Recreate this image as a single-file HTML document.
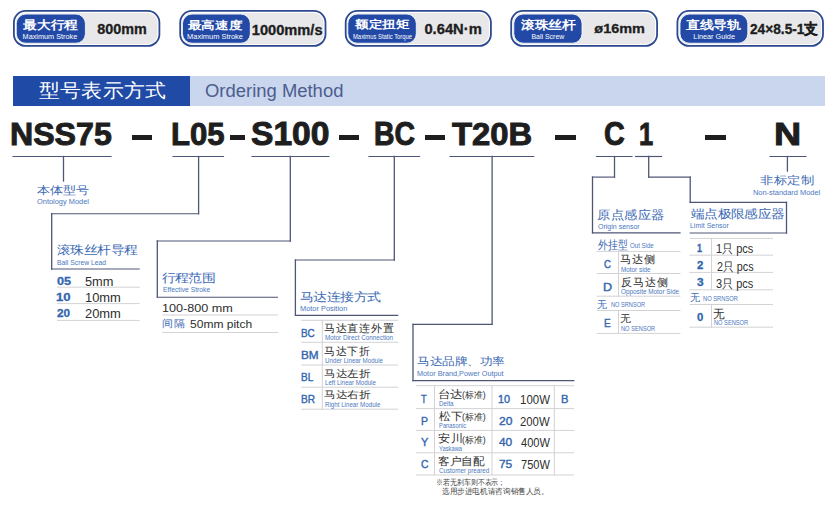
<!DOCTYPE html>
<html><head><meta charset="utf-8"><title>Ordering Method</title>
<style>
html,body{margin:0;padding:0;background:#fff;}
body{width:837px;height:524px;position:relative;overflow:hidden;font-family:"Liberation Sans", sans-serif;}
.r,.t,.bo,.bp,.ov{position:absolute;}
.ov{left:0;top:0;}
.t{white-space:nowrap;line-height:1;transform-origin:0 0;}


</style></head><body>
<svg class="bo" width="837" height="60" viewBox="0 0 837 60" style="left:0;top:0"><rect x="13.90" y="10.90" width="145.50" height="35.00" rx="11.60" fill="#ffffff" stroke="#2d4a90" stroke-width="1.8"/><rect x="15.90" y="12.90" width="141.50" height="31.00" rx="9.60" fill="#e8e8ea"/><rect x="16.30" y="14.1" width="69.10" height="29.1" rx="9.5" fill="#2249a6" stroke="#ffffff" stroke-width="0.8"/><rect x="180.20" y="10.90" width="145.30" height="35.00" rx="11.60" fill="#ffffff" stroke="#2d4a90" stroke-width="1.8"/><rect x="182.20" y="12.90" width="141.30" height="31.00" rx="9.60" fill="#e8e8ea"/><rect x="182.50" y="14.1" width="67.80" height="29.1" rx="9.5" fill="#2249a6" stroke="#ffffff" stroke-width="0.8"/><rect x="345.70" y="10.90" width="145.20" height="35.00" rx="11.60" fill="#ffffff" stroke="#2d4a90" stroke-width="1.8"/><rect x="347.70" y="12.90" width="141.20" height="31.00" rx="9.60" fill="#e8e8ea"/><rect x="347.80" y="14.1" width="68.50" height="29.1" rx="9.5" fill="#2249a6" stroke="#ffffff" stroke-width="0.8"/><rect x="511.20" y="10.90" width="145.90" height="35.00" rx="11.60" fill="#ffffff" stroke="#2d4a90" stroke-width="1.8"/><rect x="513.20" y="12.90" width="141.90" height="31.00" rx="9.60" fill="#e8e8ea"/><rect x="513.80" y="14.1" width="68.20" height="29.1" rx="9.5" fill="#2249a6" stroke="#ffffff" stroke-width="0.8"/><rect x="677.40" y="10.90" width="145.60" height="35.00" rx="11.60" fill="#ffffff" stroke="#2d4a90" stroke-width="1.8"/><rect x="679.40" y="12.90" width="141.60" height="31.00" rx="9.60" fill="#e8e8ea"/><rect x="680.00" y="14.1" width="67.80" height="29.1" rx="9.5" fill="#2249a6" stroke="#ffffff" stroke-width="0.8"/></svg>
<div class="r" style="left:13px;top:76px;width:177.4px;height:30px;background:#1f4aa6"></div><div class="r" style="left:190.4px;top:76px;width:634.4px;height:30px;background:#c9d6ee"></div>
<div class="r" style="left:132.0px;top:134.7px;width:20.19999999999999px;height:5px;background:#1e1e1e"></div><div class="r" style="left:230.0px;top:134.7px;width:15.0px;height:5px;background:#1e1e1e"></div><div class="r" style="left:339.0px;top:134.7px;width:20.19999999999999px;height:5px;background:#1e1e1e"></div><div class="r" style="left:425.0px;top:134.7px;width:19.69999999999999px;height:5px;background:#1e1e1e"></div><div class="r" style="left:555.4px;top:134.7px;width:20.300000000000068px;height:5px;background:#1e1e1e"></div><div class="r" style="left:705.3px;top:134.7px;width:20.700000000000045px;height:5px;background:#1e1e1e"></div>
<svg class="ov" width="837" height="524" viewBox="0 0 837 524"><line x1="13" y1="156.5" x2="111" y2="156.5" stroke="#4e5676" stroke-width="1.15" stroke-linecap="square"/><line x1="173" y1="156.5" x2="223.5" y2="156.5" stroke="#4e5676" stroke-width="1.15" stroke-linecap="square"/><line x1="252" y1="156.5" x2="329" y2="156.5" stroke="#4e5676" stroke-width="1.15" stroke-linecap="square"/><line x1="369" y1="156.5" x2="419.6" y2="156.5" stroke="#4e5676" stroke-width="1.15" stroke-linecap="square"/><line x1="450" y1="156.5" x2="533.7" y2="156.5" stroke="#4e5676" stroke-width="1.15" stroke-linecap="square"/><line x1="596.5" y1="156.5" x2="632" y2="156.5" stroke="#4e5676" stroke-width="1.15" stroke-linecap="square"/><line x1="635.5" y1="156.5" x2="661.5" y2="156.5" stroke="#4e5676" stroke-width="1.15" stroke-linecap="square"/><line x1="770" y1="156.5" x2="806" y2="156.5" stroke="#4e5676" stroke-width="1.15" stroke-linecap="square"/><line x1="63.5" y1="156.5" x2="63.5" y2="181" stroke="#4e5676" stroke-width="1.3" stroke-linecap="square"/><line x1="198.6" y1="156.5" x2="198.6" y2="213.7" stroke="#4e5676" stroke-width="1.3" stroke-linecap="square"/><line x1="198.6" y1="213.7" x2="51.7" y2="213.7" stroke="#4e5676" stroke-width="1.15" stroke-linecap="square"/><line x1="51.7" y1="213.7" x2="51.7" y2="269" stroke="#4e5676" stroke-width="1.3" stroke-linecap="square"/><line x1="51.7" y1="269" x2="139.2" y2="269" stroke="#4e5676" stroke-width="1.15" stroke-linecap="square"/><line x1="290.3" y1="156.5" x2="290.3" y2="241" stroke="#4e5676" stroke-width="1.3" stroke-linecap="square"/><line x1="290.3" y1="241" x2="157.3" y2="241" stroke="#4e5676" stroke-width="1.15" stroke-linecap="square"/><line x1="157.3" y1="241" x2="157.3" y2="297.2" stroke="#4e5676" stroke-width="1.3" stroke-linecap="square"/><line x1="157.3" y1="297.2" x2="277.5" y2="297.2" stroke="#4e5676" stroke-width="1.15" stroke-linecap="square"/><line x1="394.3" y1="156.5" x2="394.3" y2="260" stroke="#4e5676" stroke-width="1.3" stroke-linecap="square"/><line x1="394.3" y1="260" x2="295.4" y2="260" stroke="#4e5676" stroke-width="1.15" stroke-linecap="square"/><line x1="295.4" y1="260" x2="295.4" y2="315.3" stroke="#4e5676" stroke-width="1.3" stroke-linecap="square"/><line x1="295.4" y1="315.3" x2="397.7" y2="315.3" stroke="#4e5676" stroke-width="1.15" stroke-linecap="square"/><line x1="492.1" y1="156.5" x2="492.1" y2="324.3" stroke="#4e5676" stroke-width="1.3" stroke-linecap="square"/><line x1="492.1" y1="324.3" x2="413" y2="324.3" stroke="#4e5676" stroke-width="1.15" stroke-linecap="square"/><line x1="413" y1="324.3" x2="413" y2="380.6" stroke="#4e5676" stroke-width="1.3" stroke-linecap="square"/><line x1="413" y1="380.6" x2="573.8" y2="380.6" stroke="#4e5676" stroke-width="1.15" stroke-linecap="square"/><line x1="614.5" y1="156.5" x2="614.5" y2="177.1" stroke="#4e5676" stroke-width="1.3" stroke-linecap="square"/><line x1="614.5" y1="177.1" x2="592.5" y2="177.1" stroke="#4e5676" stroke-width="1.15" stroke-linecap="square"/><line x1="592.5" y1="177.1" x2="592.5" y2="232.8" stroke="#4e5676" stroke-width="1.3" stroke-linecap="square"/><line x1="592.5" y1="232.8" x2="680" y2="232.8" stroke="#4e5676" stroke-width="1.15" stroke-linecap="square"/><line x1="648.7" y1="156.5" x2="648.7" y2="177.1" stroke="#4e5676" stroke-width="1.3" stroke-linecap="square"/><line x1="648.7" y1="177.1" x2="690.2" y2="177.1" stroke="#4e5676" stroke-width="1.15" stroke-linecap="square"/><line x1="690.2" y1="177.1" x2="690.2" y2="202.3" stroke="#4e5676" stroke-width="1.3" stroke-linecap="square"/><line x1="690.2" y1="202.3" x2="786.5" y2="202.3" stroke="#4e5676" stroke-width="1.15" stroke-linecap="square"/><line x1="786.5" y1="202.3" x2="786.5" y2="233" stroke="#4e5676" stroke-width="1.3" stroke-linecap="square"/><line x1="786.5" y1="233" x2="690.2" y2="233" stroke="#4e5676" stroke-width="1.15" stroke-linecap="square"/><line x1="787.4" y1="156.5" x2="787.4" y2="171" stroke="#4e5676" stroke-width="1.3" stroke-linecap="square"/><line x1="57.5" y1="287.2" x2="139.2" y2="287.2" stroke="#d3d3d6" stroke-width="1" stroke-linecap="square"/><line x1="57.5" y1="303.6" x2="139.2" y2="303.6" stroke="#d3d3d6" stroke-width="1" stroke-linecap="square"/><line x1="57.5" y1="320.4" x2="139.2" y2="320.4" stroke="#d3d3d6" stroke-width="1" stroke-linecap="square"/><line x1="163" y1="315.0" x2="277.5" y2="315.0" stroke="#d3d3d6" stroke-width="1" stroke-linecap="square"/><line x1="163" y1="332.5" x2="277.5" y2="332.5" stroke="#d3d3d6" stroke-width="1" stroke-linecap="square"/><line x1="301.7" y1="320.3" x2="397.8" y2="320.3" stroke="#d3d3d6" stroke-width="1" stroke-linecap="square"/><line x1="301.7" y1="342.3" x2="397.8" y2="342.3" stroke="#d3d3d6" stroke-width="1" stroke-linecap="square"/><line x1="301.7" y1="365.0" x2="397.8" y2="365.0" stroke="#d3d3d6" stroke-width="1" stroke-linecap="square"/><line x1="301.7" y1="387.2" x2="397.8" y2="387.2" stroke="#d3d3d6" stroke-width="1" stroke-linecap="square"/><line x1="301.7" y1="409.2" x2="397.8" y2="409.2" stroke="#d3d3d6" stroke-width="1" stroke-linecap="square"/><line x1="322.3" y1="320.3" x2="322.3" y2="409.2" stroke="#d3d3d6" stroke-width="1" stroke-linecap="square"/><line x1="416.4" y1="385.7" x2="573.7" y2="385.7" stroke="#d3d3d6" stroke-width="1" stroke-linecap="square"/><line x1="416.4" y1="408.6" x2="573.7" y2="408.6" stroke="#d3d3d6" stroke-width="1" stroke-linecap="square"/><line x1="416.4" y1="430.4" x2="573.7" y2="430.4" stroke="#d3d3d6" stroke-width="1" stroke-linecap="square"/><line x1="416.4" y1="452.8" x2="573.7" y2="452.8" stroke="#d3d3d6" stroke-width="1" stroke-linecap="square"/><line x1="416.4" y1="475.0" x2="573.7" y2="475.0" stroke="#d3d3d6" stroke-width="1" stroke-linecap="square"/><line x1="434.5" y1="385.7" x2="434.5" y2="475.0" stroke="#d3d3d6" stroke-width="1" stroke-linecap="square"/><line x1="492.0" y1="385.7" x2="492.0" y2="475.0" stroke="#d3d3d6" stroke-width="1" stroke-linecap="square"/><line x1="554.3" y1="385.7" x2="554.3" y2="475.0" stroke="#d3d3d6" stroke-width="1" stroke-linecap="square"/><line x1="597.3" y1="251.4" x2="680" y2="251.4" stroke="#d3d3d6" stroke-width="1" stroke-linecap="square"/><line x1="597.3" y1="273.5" x2="680" y2="273.5" stroke="#d3d3d6" stroke-width="1" stroke-linecap="square"/><line x1="597.3" y1="296.2" x2="680" y2="296.2" stroke="#d3d3d6" stroke-width="1" stroke-linecap="square"/><line x1="597.3" y1="310.5" x2="680" y2="310.5" stroke="#d3d3d6" stroke-width="1" stroke-linecap="square"/><line x1="597.3" y1="333.4" x2="680" y2="333.4" stroke="#d3d3d6" stroke-width="1" stroke-linecap="square"/><line x1="618.5" y1="251.4" x2="618.5" y2="296.2" stroke="#d3d3d6" stroke-width="1" stroke-linecap="square"/><line x1="618.5" y1="310.5" x2="618.5" y2="333.4" stroke="#d3d3d6" stroke-width="1" stroke-linecap="square"/><line x1="690" y1="238.4" x2="772.5" y2="238.4" stroke="#d3d3d6" stroke-width="1" stroke-linecap="square"/><line x1="690" y1="255.2" x2="772.5" y2="255.2" stroke="#d3d3d6" stroke-width="1" stroke-linecap="square"/><line x1="690" y1="272.4" x2="772.5" y2="272.4" stroke="#d3d3d6" stroke-width="1" stroke-linecap="square"/><line x1="690" y1="289.8" x2="772.5" y2="289.8" stroke="#d3d3d6" stroke-width="1" stroke-linecap="square"/><line x1="690" y1="304.5" x2="772.5" y2="304.5" stroke="#d3d3d6" stroke-width="1" stroke-linecap="square"/><line x1="690" y1="327.2" x2="772.5" y2="327.2" stroke="#d3d3d6" stroke-width="1" stroke-linecap="square"/><line x1="711.5" y1="238.4" x2="711.5" y2="289.8" stroke="#d3d3d6" stroke-width="1" stroke-linecap="square"/><line x1="711.5" y1="304.5" x2="711.5" y2="327.2" stroke="#d3d3d6" stroke-width="1" stroke-linecap="square"/></svg>
<div class="t" id="b0cn" style="left:16.82px;top:18.88px;font-size:14px;color:#fff;font-weight:700;transform:scale(0.9722,0.8498);width:69.1px;text-align:center;">最大行程</div><div class="t" id="b0en" style="left:13.87px;top:33.00px;font-size:7px;color:#fff;font-weight:400;transform:scale(1.0403,1.0000);width:69.1px;text-align:center;">Maximum Stroke</div><div class="t" id="b0val" style="left:87.33px;top:21.00px;font-size:15px;color:#1e1e1e;font-weight:700;transform:scale(0.9584,0.9897);width:72.9px;text-align:center;-webkit-text-stroke:0.35px #1e1e1e;">800mm</div><div class="t" id="b1cn" style="left:182.16px;top:18.82px;font-size:14px;color:#fff;font-weight:700;transform:scale(0.9777,0.7924);width:67.8px;text-align:center;">最高速度</div><div class="t" id="b1en" style="left:179.33px;top:33.00px;font-size:7px;color:#fff;font-weight:400;transform:scale(1.0627,1.0000);width:67.8px;text-align:center;">Maximum Stroke</div><div class="t" id="b1val" style="left:250.94px;top:22.20px;font-size:15px;color:#1e1e1e;font-weight:700;transform:scale(0.9755,1.0000);width:74.1px;text-align:center;-webkit-text-stroke:0.35px #1e1e1e;">1000mm/s</div><div class="t" id="b2cn" style="left:349.02px;top:17.97px;font-size:14px;color:#fff;font-weight:700;transform:scale(0.9723,0.7924);width:68.5px;text-align:center;">额定扭矩</div><div class="t" id="b2en" style="left:352.73px;top:33.00px;font-size:7px;color:#fff;font-weight:400;transform:scale(0.8358,1.0000);width:68.5px;text-align:center;">Maximus Static Torque</div><div class="t" id="b2val" style="left:416.76px;top:21.00px;font-size:15px;color:#1e1e1e;font-weight:700;transform:scale(0.9823,0.9897);width:73.5px;text-align:center;-webkit-text-stroke:0.35px #1e1e1e;">0.64N·m</div><div class="t" id="b3cn" style="left:515.03px;top:18.88px;font-size:14px;color:#fff;font-weight:700;transform:scale(0.9810,0.8498);width:68.2px;text-align:center;">滚珠丝杆</div><div class="t" id="b3en" style="left:514.11px;top:33.00px;font-size:7px;color:#fff;font-weight:400;transform:scale(0.9935,1.0000);width:68.2px;text-align:center;">Ball Screw</div><div class="t" id="b3val" style="left:583.79px;top:22.21px;font-size:15px;color:#1e1e1e;font-weight:700;transform:scale(0.9632,0.8530);width:74.0px;text-align:center;-webkit-text-stroke:0.35px #1e1e1e;">ø16mm</div><div class="t" id="b4cn" style="left:680.11px;top:18.88px;font-size:14px;color:#fff;font-weight:700;transform:scale(0.9863,0.8498);width:67.8px;text-align:center;">直线导轨</div><div class="t" id="b4en" style="left:678.51px;top:33.00px;font-size:7px;color:#fff;font-weight:400;transform:scale(1.0372,1.0000);width:67.8px;text-align:center;">Linear Guide</div><div class="t" id="b4val" style="left:750.30px;top:20.50px;font-size:15px;color:#1e1e1e;font-weight:700;transform:scale(0.9127,1.0000);width:74.1px;text-align:center;-webkit-text-stroke:0.35px #1e1e1e;">24×8.5-1支</div><div class="t" id="hcn" style="left:39.00px;top:79.74px;font-size:21px;color:#fff;font-weight:500;transform:scale(1.0091,0.9178);">型号表示方式</div><div class="t" id="hen" style="left:204.99px;top:81.90px;font-size:18px;color:#4d5d8d;font-weight:400;transform:scale(1.0246,1.0000);">Ordering Method</div><div class="t" id="code0" style="left:10.07px;top:118.70px;font-size:33px;color:#1e1e1e;font-weight:700;transform:scale(0.9732,0.9440);-webkit-text-stroke:1px #1e1e1e;">NSS75</div><div class="t" id="code1" style="left:171.15px;top:118.70px;font-size:33px;color:#1e1e1e;font-weight:700;transform:scale(0.9438,0.9440);-webkit-text-stroke:1px #1e1e1e;">L05</div><div class="t" id="code2" style="left:250.98px;top:117.00px;font-size:33px;color:#1e1e1e;font-weight:700;transform:scale(1.0172,1.0000);-webkit-text-stroke:1px #1e1e1e;">S100</div><div class="t" id="code3" style="left:374.30px;top:117.00px;font-size:33px;color:#1e1e1e;font-weight:700;transform:scale(0.8618,1.0000);-webkit-text-stroke:1px #1e1e1e;">BC</div><div class="t" id="code4" style="left:452.00px;top:118.70px;font-size:33px;color:#1e1e1e;font-weight:700;transform:scale(0.9941,0.9440);-webkit-text-stroke:1px #1e1e1e;">T20B</div><div class="t" id="code5" style="left:604.19px;top:117.00px;font-size:33px;color:#1e1e1e;font-weight:700;transform:scale(0.8709,1.0000);-webkit-text-stroke:1px #1e1e1e;">C</div><div class="t" id="code6" style="left:638.98px;top:118.70px;font-size:33px;color:#1e1e1e;font-weight:700;transform:scale(0.7732,0.9440);-webkit-text-stroke:1px #1e1e1e;">1</div><div class="t" id="code7" style="left:773.57px;top:118.70px;font-size:33px;color:#1e1e1e;font-weight:700;transform:scale(1.1400,0.9440);-webkit-text-stroke:1px #1e1e1e;">N</div><div class="t" id="t_nss_cn" style="left:37.30px;top:184.54px;font-size:13px;color:#3b69b3;font-weight:500;transform:scale(1.0011,0.8401);">本体型号</div><div class="t" id="t_nss_en" style="left:37.01px;top:197.80px;font-size:7.5px;color:#4b78c0;font-weight:400;transform:scale(0.9895,1.0000);">Ontology Model</div><div class="t" id="t_n_cn" style="left:759.94px;top:173.52px;font-size:13px;color:#3b69b3;font-weight:500;transform:scale(1.0501,0.8642);">非标定制</div><div class="t" id="t_n_en" style="left:753.01px;top:188.70px;font-size:7.5px;color:#4b78c0;font-weight:400;transform:scale(0.9881,1.0000);">Non-standard Model</div><div class="t" id="t_l_cn" style="left:56.97px;top:243.91px;font-size:13.3px;color:#3b69b3;font-weight:500;transform:scale(1.0340,0.9001);">滚珠丝杆导程</div><div class="t" id="t_l_en" style="left:57.05px;top:258.70px;font-size:7.5px;color:#4b78c0;font-weight:400;transform:scale(0.9055,1.0000);">Ball Screw Lead</div><div class="t" id="t_s_cn" style="left:161.98px;top:272.02px;font-size:13.3px;color:#3b69b3;font-weight:500;transform:scale(1.0164,0.8758);">行程范围</div><div class="t" id="t_s_en" style="left:163.10px;top:285.70px;font-size:7.5px;color:#4b78c0;font-weight:400;transform:scale(0.9020,1.0000);">Effective Stroke</div><div class="t" id="t_bc_cn" style="left:299.95px;top:290.93px;font-size:13.3px;color:#3b69b3;font-weight:500;transform:scale(1.0375,0.8921);">马达连接方式</div><div class="t" id="t_bc_en" style="left:300.02px;top:304.80px;font-size:7.5px;color:#4b78c0;font-weight:400;transform:scale(0.9868,1.0000);">Motor Position</div><div class="t" id="t_t_cn" style="left:417.24px;top:357.19px;font-size:12.5px;color:#3b69b3;font-weight:500;transform:scale(0.9673,0.8397);">马达品牌、功率</div><div class="t" id="t_t_en" style="left:417.03px;top:370.00px;font-size:7.5px;color:#4b78c0;font-weight:400;transform:scale(0.9710,1.0000);">Motor Brand,Power Output</div><div class="t" id="t_o_cn" style="left:596.84px;top:209.00px;font-size:13.3px;color:#3b69b3;font-weight:500;transform:scale(1.0401,0.9388);">原点感应器</div><div class="t" id="t_o_en" style="left:598.00px;top:222.80px;font-size:7.5px;color:#4b78c0;font-weight:400;transform:scale(0.9350,1.0000);">Origin sensor</div><div class="t" id="t_li_cn" style="left:691.00px;top:208.09px;font-size:13.3px;color:#3b69b3;font-weight:500;transform:scale(1.0286,0.9001);">端点极限感应器</div><div class="t" id="t_li_en" style="left:690.09px;top:222.10px;font-size:7.5px;color:#4b78c0;font-weight:400;transform:scale(0.9285,1.0000);">Limit Sensor</div><div class="t" id="l_k0" style="left:56.92px;top:276.10px;font-size:11.5px;color:#3366ae;font-weight:700;transform:scale(1.0991,1.0000);-webkit-text-stroke:0.3px #3366ae;">05</div><div class="t" id="l_v0" style="left:84.80px;top:276.10px;font-size:12px;color:#2e2e2e;font-weight:400;transform:scale(1.0652,1.0000);">5mm</div><div class="t" id="l_k1" style="left:55.92px;top:292.30px;font-size:11.5px;color:#3366ae;font-weight:700;transform:scale(1.1414,1.0000);-webkit-text-stroke:0.3px #3366ae;">10</div><div class="t" id="l_v1" style="left:84.79px;top:292.30px;font-size:12px;color:#2e2e2e;font-weight:400;transform:scale(1.0758,1.0000);">10mm</div><div class="t" id="l_k2" style="left:57.31px;top:308.40px;font-size:11.5px;color:#3366ae;font-weight:700;transform:scale(1.0208,1.0000);-webkit-text-stroke:0.3px #3366ae;">20</div><div class="t" id="l_v2" style="left:84.79px;top:308.40px;font-size:12px;color:#2e2e2e;font-weight:400;transform:scale(1.0758,1.0000);">20mm</div><div class="t" id="s_v0" style="left:161.88px;top:302.60px;font-size:11.5px;color:#2e2e2e;font-weight:400;transform:scale(1.0979,1.0000);">100-800 mm</div><div class="t" id="s_c1" style="left:162.03px;top:318.87px;font-size:11.5px;color:#3b69b3;font-weight:500;transform:scale(0.9801,0.9005);">间隔</div><div class="t" id="s_v1" style="left:189.96px;top:318.50px;font-size:11.5px;color:#2e2e2e;font-weight:400;transform:scale(1.0457,1.0000);">50mm pitch</div><div class="t" id="bc_k0" style="left:301.20px;top:327.50px;font-size:11.5px;color:#3366ae;font-weight:400;transform:scale(0.8595,1.0000);-webkit-text-stroke:0.4px #3366ae;">BC</div><div class="t" id="bc_cn0" style="left:324.02px;top:322.52px;font-size:11.5px;color:#2e2e2e;font-weight:500;transform:scale(0.9754,0.9721);">马达直连外置</div><div class="t" id="bc_en0" style="left:325.08px;top:334.30px;font-size:7.2px;color:#4b78c0;font-weight:400;transform:scale(0.8785,1.0000);">Motor Direct Connection</div><div class="t" id="bc_k1" style="left:300.99px;top:350.23px;font-size:11.5px;color:#3366ae;font-weight:400;transform:scale(1.0235,1.0000);-webkit-text-stroke:0.4px #3366ae;">BM</div><div class="t" id="bc_cn1" style="left:324.00px;top:345.86px;font-size:11.5px;color:#2e2e2e;font-weight:500;transform:scale(0.9783,0.9840);">马达下折</div><div class="t" id="bc_en1" style="left:325.14px;top:356.53px;font-size:7.2px;color:#4b78c0;font-weight:400;transform:scale(0.8637,1.0000);">Under Linear Module</div><div class="t" id="bc_k2" style="left:301.11px;top:372.46px;font-size:11.5px;color:#3366ae;font-weight:400;transform:scale(0.8694,1.0000);-webkit-text-stroke:0.4px #3366ae;">BL</div><div class="t" id="bc_cn2" style="left:324.21px;top:368.70px;font-size:11.5px;color:#2e2e2e;font-weight:500;transform:scale(0.9681,0.8423);">马达左折</div><div class="t" id="bc_en2" style="left:325.13px;top:379.46px;font-size:7.2px;color:#4b78c0;font-weight:400;transform:scale(0.8548,1.0000);">Left Linear Module</div><div class="t" id="bc_k3" style="left:301.14px;top:393.79px;font-size:11.5px;color:#3366ae;font-weight:400;transform:scale(0.8816,1.0000);-webkit-text-stroke:0.4px #3366ae;">BR</div><div class="t" id="bc_cn3" style="left:324.03px;top:390.98px;font-size:11.5px;color:#2e2e2e;font-weight:500;transform:scale(0.9604,0.8313);">马达右折</div><div class="t" id="bc_en3" style="left:325.34px;top:401.49px;font-size:7.2px;color:#4b78c0;font-weight:400;transform:scale(0.8610,1.0000);">Right Linear Module</div><div class="t" id="t_k0" style="left:421.13px;top:393.80px;font-size:11.5px;color:#3366ae;font-weight:400;transform:scale(0.8055,1.0000);-webkit-text-stroke:0.4px #3366ae;">T</div><div class="t" id="t_cn0" style="left:437.90px;top:388.70px;font-size:12px;color:#2e2e2e;font-weight:500;transform:scale(1.0392,0.9135);">台达</div><div class="t" id="t_std0" style="left:461.91px;top:391.20px;font-size:9px;color:#2e2e2e;font-weight:400;transform:scale(0.9845,1.0000);">(标准)</div><div class="t" id="t_en0" style="left:439.09px;top:400.20px;font-size:7.0px;color:#4b78c0;font-weight:400;transform:scale(0.8929,1.0000);">Delta</div><div class="t" id="t_n0" style="left:498.32px;top:393.80px;font-size:11.5px;color:#3366ae;font-weight:400;transform:scale(0.9408,1.0000);-webkit-text-stroke:0.4px #3366ae;">10</div><div class="t" id="t_w0" style="left:520.06px;top:393.80px;font-size:12px;color:#2e2e2e;font-weight:400;transform:scale(0.9555,1.0000);">100W</div><div class="t" id="t_k1" style="left:421.35px;top:416.03px;font-size:11.5px;color:#3366ae;font-weight:400;transform:scale(0.9100,1.0000);-webkit-text-stroke:0.4px #3366ae;">P</div><div class="t" id="t_cn1" style="left:439.30px;top:410.85px;font-size:12px;color:#2e2e2e;font-weight:500;transform:scale(1.0027,0.9354);">松下</div><div class="t" id="t_std1" style="left:461.91px;top:413.23px;font-size:9px;color:#2e2e2e;font-weight:400;transform:scale(0.9845,1.0000);">(标准)</div><div class="t" id="t_en1" style="left:439.11px;top:422.03px;font-size:7.0px;color:#4b78c0;font-weight:400;transform:scale(0.8307,1.0000);">Panasonic</div><div class="t" id="t_n1" style="left:498.90px;top:416.03px;font-size:11.5px;color:#3366ae;font-weight:400;transform:scale(1.0457,1.0000);-webkit-text-stroke:0.4px #3366ae;">20</div><div class="t" id="t_w1" style="left:520.09px;top:416.03px;font-size:12px;color:#2e2e2e;font-weight:400;transform:scale(0.9452,1.0000);">200W</div><div class="t" id="t_k2" style="left:420.89px;top:436.96px;font-size:11.5px;color:#3366ae;font-weight:400;transform:scale(0.9514,1.0000);-webkit-text-stroke:0.4px #3366ae;">Y</div><div class="t" id="t_cn2" style="left:437.91px;top:433.29px;font-size:12px;color:#2e2e2e;font-weight:500;transform:scale(1.0427,0.9479);">安川</div><div class="t" id="t_std2" style="left:461.91px;top:435.86px;font-size:9px;color:#2e2e2e;font-weight:400;transform:scale(0.9845,1.0000);">(标准)</div><div class="t" id="t_en2" style="left:439.13px;top:444.86px;font-size:7.0px;color:#4b78c0;font-weight:400;transform:scale(0.8274,1.0000);">Yaskawa</div><div class="t" id="t_n2" style="left:499.05px;top:436.96px;font-size:11.5px;color:#3366ae;font-weight:400;transform:scale(1.0328,1.0000);-webkit-text-stroke:0.4px #3366ae;">40</div><div class="t" id="t_w2" style="left:521.02px;top:436.96px;font-size:12px;color:#2e2e2e;font-weight:400;transform:scale(0.9210,1.0000);">400W</div><div class="t" id="t_k3" style="left:421.01px;top:458.69px;font-size:11.5px;color:#3366ae;font-weight:400;transform:scale(0.9017,1.0000);-webkit-text-stroke:0.4px #3366ae;">C</div><div class="t" id="t_cn3" style="left:438.05px;top:455.77px;font-size:12px;color:#2e2e2e;font-weight:500;transform:scale(0.9704,0.9135);">客户自配</div><div class="t" id="t_en3" style="left:439.07px;top:466.99px;font-size:7.0px;color:#4b78c0;font-weight:400;transform:scale(0.8891,1.0000);">Customer preared</div><div class="t" id="t_n3" style="left:498.97px;top:459.19px;font-size:11.5px;color:#3366ae;font-weight:400;transform:scale(1.0328,1.0000);-webkit-text-stroke:0.4px #3366ae;">75</div><div class="t" id="t_w3" style="left:521.05px;top:459.19px;font-size:12px;color:#2e2e2e;font-weight:400;transform:scale(0.9225,1.0000);">750W</div><div class="t" id="t_b" style="left:560.67px;top:393.80px;font-size:11.5px;color:#3366ae;font-weight:400;transform:scale(0.9759,1.0000);-webkit-text-stroke:0.4px #3366ae;">B</div><div class="t" id="fn1" style="left:436.17px;top:478.80px;font-size:7.5px;color:#444;font-weight:400;transform:scale(0.8662,1.0000);">※若无刹车则不表示；</div><div class="t" id="fn2" style="left:442.04px;top:487.90px;font-size:7.5px;color:#444;font-weight:400;transform:scale(0.9517,1.0000);">选用步进电机请咨询销售人员。</div><div class="t" id="o_h1" style="left:598.05px;top:239.00px;font-size:12px;color:#3b69b3;font-weight:500;transform:scale(0.8247,1.0000);">外挂型</div><div class="t" id="o_h1e" style="left:630.16px;top:241.50px;font-size:7.5px;color:#4b78c0;font-weight:400;transform:scale(0.8138,1.0000);">Out Side</div><div class="t" id="o_kc" style="left:604.03px;top:259.00px;font-size:11.5px;color:#3366ae;font-weight:400;transform:scale(0.8271,1.0000);-webkit-text-stroke:0.4px #3366ae;">C</div><div class="t" id="o_c_cn" style="left:620.02px;top:253.88px;font-size:11.5px;color:#2e2e2e;font-weight:500;transform:scale(0.9867,0.9709);">马达侧</div><div class="t" id="o_c_en" style="left:621.03px;top:266.00px;font-size:7.0px;color:#4b78c0;font-weight:400;transform:scale(0.9064,1.0000);">Motor side</div><div class="t" id="o_kd" style="left:602.87px;top:281.50px;font-size:11.5px;color:#3366ae;font-weight:400;transform:scale(1.0951,1.0000);-webkit-text-stroke:0.4px #3366ae;">D</div><div class="t" id="o_d_cn" style="left:620.50px;top:276.97px;font-size:11.5px;color:#2e2e2e;font-weight:500;transform:scale(1.0018,0.9961);">反马达侧</div><div class="t" id="o_d_en" style="left:621.05px;top:288.00px;font-size:7.0px;color:#4b78c0;font-weight:400;transform:scale(0.9089,1.0000);">Opposite Motor Side</div><div class="t" id="o_h2" style="left:596.90px;top:299.90px;font-size:10px;color:#3b69b3;font-weight:500;">无</div><div class="t" id="o_h2e" style="left:611.16px;top:301.00px;font-size:7px;color:#4b78c0;font-weight:400;transform:scale(0.8062,1.0000);">NO SRNSOR</div><div class="t" id="o_ke" style="left:603.88px;top:318.20px;font-size:11.5px;color:#3366ae;font-weight:400;transform:scale(0.8775,1.0000);-webkit-text-stroke:0.4px #3366ae;">E</div><div class="t" id="o_e_cn" style="left:620.15px;top:313.80px;font-size:11.5px;color:#2e2e2e;font-weight:500;transform:scale(0.9721,0.8918);">无</div><div class="t" id="o_e_en" style="left:621.07px;top:325.00px;font-size:7.0px;color:#4b78c0;font-weight:400;transform:scale(0.8152,1.0000);">NO SENSOR</div><div class="t" id="li_k0" style="left:697.47px;top:242.90px;font-size:11.5px;color:#3366ae;font-weight:700;transform:scale(0.7812,1.0000);-webkit-text-stroke:0.3px #3366ae;">1</div><div class="t" id="li_v0" style="left:716.06px;top:243.40px;font-size:12px;color:#2e2e2e;font-weight:400;transform:scale(0.9182,1.0000);">1只 pcs</div><div class="t" id="li_k1" style="left:697.23px;top:260.03px;font-size:11.5px;color:#3366ae;font-weight:700;transform:scale(0.9925,1.0000);-webkit-text-stroke:0.3px #3366ae;">2</div><div class="t" id="li_v1" style="left:717.07px;top:260.53px;font-size:12px;color:#2e2e2e;font-weight:400;transform:scale(0.8984,1.0000);">2只 pcs</div><div class="t" id="li_k2" style="left:696.81px;top:277.26px;font-size:11.5px;color:#3366ae;font-weight:700;transform:scale(1.0400,1.0000);-webkit-text-stroke:0.3px #3366ae;">3</div><div class="t" id="li_v2" style="left:716.06px;top:277.66px;font-size:12px;color:#2e2e2e;font-weight:400;transform:scale(0.9182,1.0000);">3只 pcs</div><div class="t" id="li_h2" style="left:689.50px;top:292.50px;font-size:10px;color:#3b69b3;font-weight:500;">无</div><div class="t" id="li_h2e" style="left:703.33px;top:294.90px;font-size:7px;color:#4b78c0;font-weight:400;transform:scale(0.8242,1.0000);">NO SRNSOR</div><div class="t" id="li_kz" style="left:697.11px;top:311.50px;font-size:11.5px;color:#3366ae;font-weight:700;transform:scale(0.9853,1.0000);-webkit-text-stroke:0.3px #3366ae;">0</div><div class="t" id="li_0cn" style="left:713.04px;top:308.80px;font-size:11.5px;color:#2e2e2e;font-weight:500;transform:scale(0.9721,1.0000);">无</div><div class="t" id="li_0en" style="left:714.17px;top:319.20px;font-size:7.0px;color:#4b78c0;font-weight:400;transform:scale(0.8131,1.0000);">NO SENSOR</div>
</body></html>
